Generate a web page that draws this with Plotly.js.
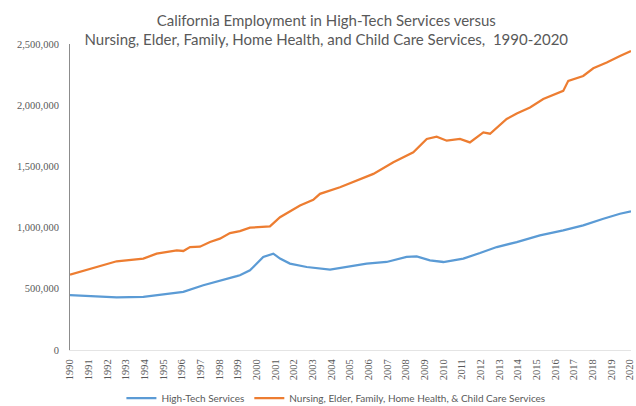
<!DOCTYPE html>
<html>
<head>
<meta charset="utf-8">
<script src="https://cdn.plot.ly/plotly-3.0.1.min.js"></script>
<style>html,body{margin:0;padding:0;background:#fff;}#chart{width:636px;height:406px;}</style>
</head>
<body>
<div id="chart"></div>
<script>
// Decimal-year dates and employment values
const techDates = [1990.0,1991.07,1992.5,1993.93,1995.0,1996.07,1997.14,1998.21,1998.93,1999.1,1999.64,1999.82,2000.35,2000.89,2001.25,2001.78,2002.68,2003.93,2004.82,2005.89,2006.96,2008.03,2008.57,2009.28,2010.0,2011.07,2011.96,2012.86,2013.93,2015.17,2016.42,2017.49,2018.57,2019.46,2020.05];
const techValues = [448000,440000,429000,434000,454000,475000,529000,570000,603000,611000,651000,678000,760000,787000,747000,706000,678000,657000,678000,706000,719000,760000,765000,733000,719000,747000,792000,841000,882000,936000,977000,1018000,1072000,1113000,1132000];

const careDates = [1990.0,1991.07,1992.5,1993.93,1994.64,1995.72,1996.07,1996.43,1996.96,1997.5,1998.03,1998.57,1999.1,1999.64,2000.71,2001.25,2002.32,2003.03,2003.39,2004.46,2005.0,2006.25,2007.32,2008.39,2009.11,2009.64,2010.18,2010.89,2011.42,2012.14,2012.5,2013.39,2013.93,2014.64,2015.35,2016.42,2016.69,2017.49,2018.03,2018.75,2019.46,2020.05];
const careValues = [616000,665000,725000,747000,787000,814000,809000,841000,844000,882000,910000,955000,971000,999000,1010000,1085000,1181000,1227000,1276000,1330000,1362000,1439000,1533000,1615000,1724000,1743000,1710000,1724000,1696000,1778000,1767000,1887000,1932000,1981000,2050000,2117000,2199000,2239000,2302000,2348000,2402000,2443000];

const yearTicks = [1990,1991,1992,1993,1994,1995,1996,1997,1998,1999,2000,2001,2002,2003,2004,2005,2006,2007,2008,2009,2010,2011,2012,2013,2014,2015,2016,2017,2018,2019,2020];
const yearLabels = yearTicks.map(String);
const yTicks = [0,500000,1000000,1500000,2000000,2500000];
const seriesNames = ["High-Tech Services","Nursing, Elder, Family, Home Health, & Child Care Services"];
const titleLines = ["California Employment in High-Tech Services versus","Nursing, Elder, Family, Home Health, and Child Care Services,  1990-2020"];

const traces = [
  {x: techDates, y: techValues, type: 'scatter', mode: 'lines', name: seriesNames[0],
   line: {color: '#5B9BD5', width: 2.25}},
  {x: careDates, y: careValues, type: 'scatter', mode: 'lines', name: seriesNames[1],
   line: {color: '#ED7D31', width: 2.25}}
];

const layout = {
  width: 636, height: 406,
  margin: {l: 70, r: 5, t: 44, b: 56, autoexpand: false},
  paper_bgcolor: '#ffffff', plot_bgcolor: '#ffffff',
  title: {text: titleLines.join('<br>'), font: {family: 'Lato, sans-serif', size: 15, color: '#595959'},
          x: 0.513, xref: 'container', xanchor: 'center', y: 0.937, yref: 'container', yanchor: 'top'},
  xaxis: {range: [1990, 2020.05], tickmode: 'array', tickvals: yearTicks, ticktext: yearLabels,
          tickangle: -90, showgrid: false, zeroline: false, showline: true, linecolor: '#e4e4e4', linewidth: 1,
          ticks: '', ticklabelstandoff: 4,
          tickfont: {family: '"Liberation Serif", serif', size: 10.5, color: '#595959'}},
  yaxis: {range: [0, 2500000], tickmode: 'array', tickvals: yTicks, tickformat: ',d',
          showgrid: false, zeroline: false, showline: true, linecolor: '#8c8c8c', linewidth: 1,
          ticks: '', ticklabelstandoff: 8,
          tickfont: {family: '"Liberation Serif", serif', size: 10.5, color: '#595959'}},
  showlegend: true,
  legend: {orientation: 'h', x: 0.474, xanchor: 'center', y: -0.157, yanchor: 'middle',
           font: {family: 'Lato, sans-serif', size: 10, color: '#595959'}, itemwidth: 30, tracegroupgap: 0}
};

Plotly.newPlot('chart', traces, layout, {displayModeBar: false, staticPlot: true});
</script>
</body>
</html>
